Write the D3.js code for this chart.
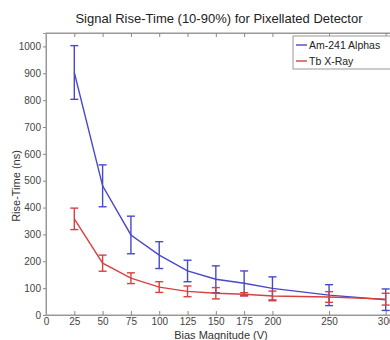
<!DOCTYPE html>
<html><head><meta charset="utf-8">
<script src="https://cdn.jsdelivr.net/npm/d3@7"></script>
<style>body{margin:0;background:#fff;}svg{display:block;font-family:"Liberation Sans",Arial,sans-serif;}</style>
</head><body>
<svg id="c" width="390" height="340"></svg>
<script>
const biasV = [25, 50, 75, 100, 125, 150, 175, 200, 250, 300];
const alphaRise = [903, 481, 298, 223, 164, 133, 118, 99, 74, 57];
const alphaErr = [100, 78, 70, 50, 40, 50, 46, 43, 39, 40];
const xrayRise = [358, 193, 137, 104, 88, 81, 77, 71, 67, 59];
const xrayErr = [40, 30, 20, 20, 20, 21, 6, 18, 20, 22];
const xTicks = [0, 25, 50, 75, 100, 125, 150, 175, 200, 250, 300];
const yTicks = [0, 100, 200, 300, 400, 500, 600, 700, 800, 900, 1000];
const seriesNames = ["Am-241 Alphas", "Tb X-Ray"];
const colors = ["#4848cc", "#d84040"];

const svg = d3.select("#c");
const L = 46, R = 397, T = 33, B = 315;
const x = d3.scaleLinear().domain([0, 310]).range([L, R]);
const y = d3.scaleLinear().domain([0, 1050]).range([B, T]);

svg.append("rect").attr("x", L).attr("y", T).attr("width", R - L).attr("height", B - T)
  .attr("fill", "#fff").attr("stroke", "#999").attr("stroke-width", 1);

// axes
const xAx = svg.append("g").attr("transform", `translate(0,${B})`)
  .call(d3.axisBottom(x).tickValues(xTicks).tickSize(-4).tickPadding(3).tickFormat(d3.format("d")));
const xTop = svg.append("g").attr("transform", `translate(0,${T})`)
  .call(d3.axisTop(x).tickValues(xTicks).tickSize(-4).tickFormat(""));
const yAx = svg.append("g").attr("transform", `translate(${L},0)`)
  .call(d3.axisLeft(y).tickValues(yTicks).tickSize(3).tickPadding(2).tickFormat(d3.format("d")));
[xAx, xTop, yAx].forEach(g => {
  g.select(".domain").attr("stroke", "#999");
  g.selectAll(".tick line").attr("stroke", "#888");
  g.selectAll("text").attr("fill", "#444").attr("font-size", 10).attr("font-family", "Liberation Sans, Arial, sans-serif");
});

// series
const series = [[alphaRise, alphaErr], [xrayRise, xrayErr]];
const line = d3.line().x(d => x(d[0])).y(d => y(d[1]));
series.forEach(([vals, errs], i) => {
  const pts = biasV.map((v, j) => [v, vals[j], errs[j]]);
  const g = svg.append("g").attr("stroke", colors[i]).attr("fill", "none").attr("stroke-width", 1.4);
  g.append("path").attr("d", line(pts));
  pts.forEach(p => {
    const cx = x(p[0]), y1 = y(p[1] + p[2]), y2 = y(p[1] - p[2]);
    g.append("line").attr("x1", cx).attr("x2", cx).attr("y1", y1).attr("y2", y2);
    g.append("line").attr("x1", cx - 4).attr("x2", cx + 4).attr("y1", y1).attr("y2", y1);
    g.append("line").attr("x1", cx - 4).attr("x2", cx + 4).attr("y1", y2).attr("y2", y2);
  });
});

// title & labels
svg.append("text").attr("x", 219).attr("y", 23).attr("text-anchor", "middle")
  .attr("font-size", 13).attr("fill", "#222").text("Signal Rise-Time (10-90%) for Pixellated Detector");
svg.append("text").attr("x", 221).attr("y", 339).attr("text-anchor", "middle")
  .attr("font-size", 11).attr("fill", "#333").text("Bias Magnitude (V)");
svg.append("text").attr("transform", "translate(20,186) rotate(-90)").attr("text-anchor", "middle")
  .attr("font-size", 11).attr("fill", "#333").text("Rise-Time (ns)");

// legend
const lg = svg.append("g");
lg.append("rect").attr("x", 293).attr("y", 36).attr("width", 100).attr("height", 33)
  .attr("fill", "#fff").attr("stroke", "#999");
seriesNames.forEach((n, i) => {
  const yy = 45 + i * 16;
  lg.append("line").attr("x1", 296).attr("x2", 307).attr("y1", yy).attr("y2", yy)
    .attr("stroke", colors[i]).attr("stroke-width", 1.4);
  lg.append("text").attr("x", 309).attr("y", yy + 4).attr("font-size", 10.5).attr("fill", "#222").text(n);
});
</script>
</body></html>
